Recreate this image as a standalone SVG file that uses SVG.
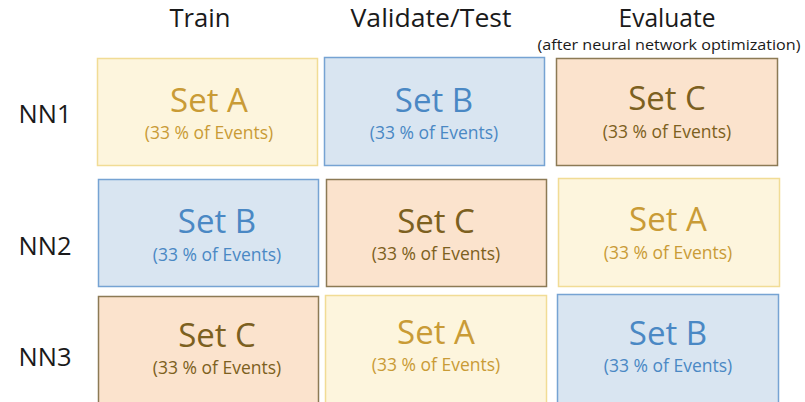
<svg xmlns="http://www.w3.org/2000/svg" width="805" height="402" viewBox="0 0 805 402">
  <style>
    text { font-family: "Open Sans", "Liberation Sans", sans-serif; text-anchor: middle; }
    .hdr { font-size: 26px; fill: #1a1a1a; }
    .note { font-size: 15px; fill: #1a1a1a; }
    .row { font-size: 26px; fill: #1a1a1a; }
    .title { font-size: 33px; }
    .sub { font-size: 17.5px; }
    .setA rect { fill: #fdf5dd; stroke: #f1dc95; stroke-width: 1.5; }
    .setA text { fill: #c99b36; }
    .setB rect { fill: #d9e5f1; stroke: #76a3d3; stroke-width: 1.5; }
    .setB text { fill: #4a88c4; }
    .setC rect { fill: #fbe3cd; stroke: #8c7a55; stroke-width: 1.5; }
    .setC text { fill: #7c6020; }
  </style>
  <rect width="805" height="402" fill="#ffffff"/>

  <!-- column headers -->
  <g id="headers">
    <text class="hdr" x="200" y="27" textLength="61" lengthAdjust="spacingAndGlyphs">Train</text>
    <text class="hdr" x="431" y="27" textLength="161" lengthAdjust="spacingAndGlyphs">Validate/Test</text>
    <text class="hdr" x="667" y="27" textLength="97" lengthAdjust="spacingAndGlyphs">Evaluate</text>
    <text class="note" x="669" y="50" textLength="263" lengthAdjust="spacingAndGlyphs">(after neural network optimization)</text>
  </g>

  <!-- row labels -->
  <g id="rows">
    <text class="row" x="45" y="123" textLength="53" lengthAdjust="spacingAndGlyphs">NN1</text>
    <text class="row" x="45" y="255" textLength="53" lengthAdjust="spacingAndGlyphs">NN2</text>
    <text class="row" x="45" y="366" textLength="53" lengthAdjust="spacingAndGlyphs">NN3</text>
  </g>

  <!-- NN1 -->
  <g id="nn1-train" class="setA">
    <rect x="97.5" y="58.5" width="220" height="107"/>
    <text class="title" x="209" y="112">Set A</text>
    <text class="sub" x="209" y="139">(33 % of Events)</text>
  </g>
  <g id="nn1-validate" class="setB">
    <rect x="324.5" y="57.5" width="220" height="108"/>
    <text class="title" x="434" y="112">Set B</text>
    <text class="sub" x="434" y="139">(33 % of Events)</text>
  </g>
  <g id="nn1-evaluate" class="setC">
    <rect x="556.5" y="58.5" width="221" height="107"/>
    <text class="title" x="667" y="110">Set C</text>
    <text class="sub" x="667" y="138">(33 % of Events)</text>
  </g>

  <!-- NN2 -->
  <g id="nn2-train" class="setB">
    <rect x="98.5" y="179.5" width="220" height="107"/>
    <text class="title" x="217" y="233">Set B</text>
    <text class="sub" x="217" y="261">(33 % of Events)</text>
  </g>
  <g id="nn2-validate" class="setC">
    <rect x="326.5" y="179.5" width="220" height="107"/>
    <text class="title" x="436" y="233">Set C</text>
    <text class="sub" x="436" y="260">(33 % of Events)</text>
  </g>
  <g id="nn2-evaluate" class="setA">
    <rect x="558.5" y="178.5" width="221" height="108"/>
    <text class="title" x="668" y="231">Set A</text>
    <text class="sub" x="668" y="259">(33 % of Events)</text>
  </g>

  <!-- NN3 -->
  <g id="nn3-train" class="setC">
    <rect x="98.5" y="296.5" width="220" height="110"/>
    <text class="title" x="217" y="347">Set C</text>
    <text class="sub" x="217" y="374">(33 % of Events)</text>
  </g>
  <g id="nn3-validate" class="setA">
    <rect x="325.5" y="295.5" width="221" height="110"/>
    <text class="title" x="436" y="344">Set A</text>
    <text class="sub" x="436" y="371">(33 % of Events)</text>
  </g>
  <g id="nn3-evaluate" class="setB">
    <rect x="557.5" y="294.5" width="221" height="110"/>
    <text class="title" x="668" y="345">Set B</text>
    <text class="sub" x="668" y="372">(33 % of Events)</text>
  </g>

  <g id="connectors"/>
</svg>
